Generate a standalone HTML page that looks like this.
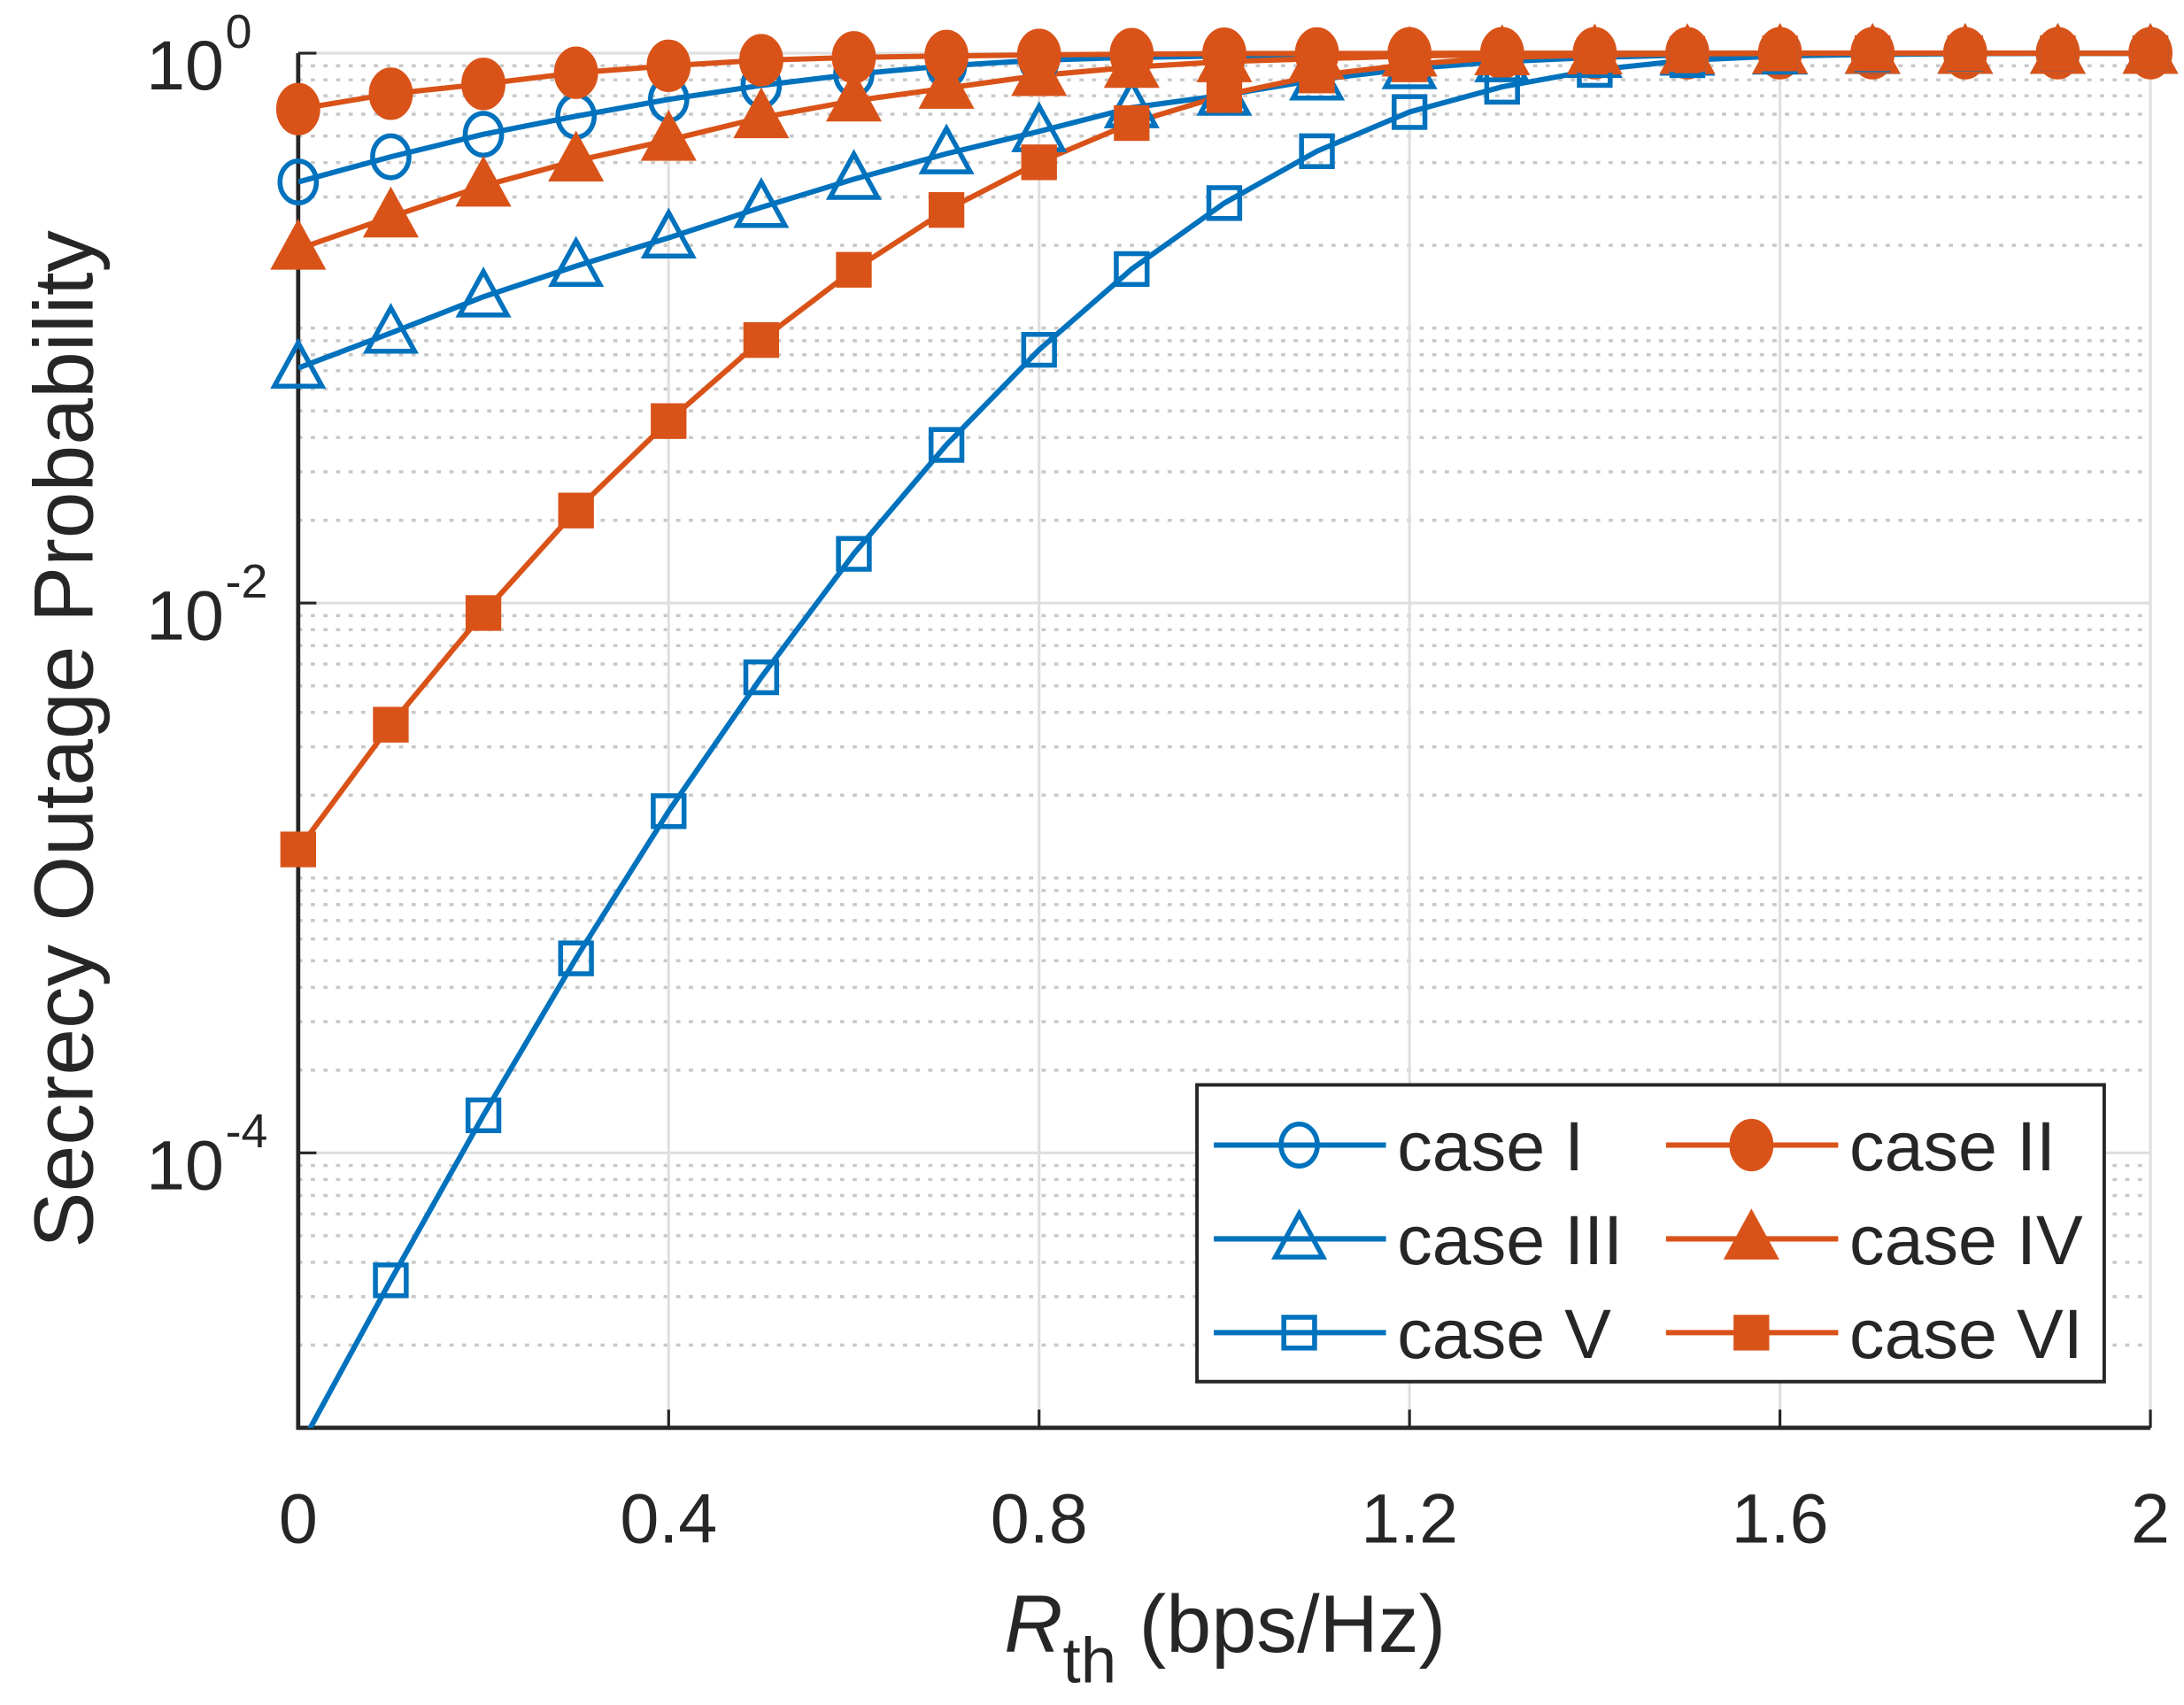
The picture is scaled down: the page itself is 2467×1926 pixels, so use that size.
<!DOCTYPE html>
<html><head><meta charset="utf-8"><style>
html,body{margin:0;padding:0;background:#fff;}
svg{display:block;}
text{font-family:"Liberation Sans",Arial,sans-serif;fill:#262626;}
</style></head><body>
<svg id="chart" xmlns="http://www.w3.org/2000/svg" width="2467" height="1926" viewBox="0 0 1560 1218" preserveAspectRatio="none">
<defs><clipPath id="plotclip"><rect x="213" y="30" width="1330" height="990"/></clipPath></defs>
<g id="grid"></g>
<g id="axes"></g>
<g id="series" clip-path="url(#plotclip)"></g>
<g id="markers"></g>
<g id="legend"></g>
<text x="875" y="1180" font-size="58" text-anchor="middle"><tspan font-style="italic">R</tspan><tspan font-size="46" dy="22">th</tspan><tspan dy="-22"> (bps/Hz)</tspan></text>
<text transform="translate(66,528) rotate(-90)" font-size="60" text-anchor="middle">Secrecy Outage Probability</text>
</svg>
<script>
const xValues = [0,0.1,0.2,0.3,0.4,0.5,0.6,0.7,0.8,0.9,1.0,1.1,1.2,1.3,1.4,1.5,1.6,1.7,1.8,1.9,2.0];
const caseI   = [0.340,0.420,0.507,0.590,0.679,0.764,0.839,0.900,0.943,0.966,0.977,0.985,0.990,0.995,0.998,0.999,1,1,1,1,1];
const caseII  = [0.626,0.712,0.773,0.849,0.900,0.943,0.966,0.977,0.986,0.992,0.996,0.998,0.999,1,1,1,1,1,1,1,1];
const caseIII = [0.0716,0.096,0.130,0.168,0.213,0.275,0.348,0.431,0.519,0.634,0.704,0.800,0.879,0.932,0.966,0.985,0.994,0.998,0.999,1,1];
const caseIV  = [0.194,0.254,0.329,0.406,0.483,0.583,0.671,0.746,0.830,0.889,0.932,0.954,0.977,0.988,0.995,0.998,1,1,1,1,1];
const caseV   = [8.3e-6,3.44e-5,1.37e-4,5.1e-4,1.75e-3,5.37e-3,0.0151,0.0376,0.0834,0.164,0.285,0.440,0.611,0.755,0.869,0.943,0.977,0.990,0.996,0.999,1];
const caseVI  = [1.27e-3,3.61e-3,9.2e-3,0.0217,0.0459,0.0905,0.163,0.269,0.401,0.557,0.704,0.830,0.911,0.966,0.985,0.994,0.998,1,1,1,1];
const xTicks = [0,0.4,0.8,1.2,1.6,2];
const xTickLabels = ["0","0.4","0.8","1.2","1.6","2"];
const yTickExps = [0,-2,-4];

const NS="http://www.w3.org/2000/svg";
const L=213,R=1536,T=38,B=1020,XMIN=0,XMAX=2,YMAXE=0,YMINE=-5;
const xs=v=>L+(v-XMIN)/(XMAX-XMIN)*(R-L);
const ys=v=>T+(YMAXE-Math.log10(v))/(YMAXE-YMINE)*(B-T);
function mk(tag,attrs,parent){const e=document.createElementNS(NS,tag);for(const k in attrs)e.setAttribute(k,attrs[k]);parent.appendChild(e);return e;}
const grid=document.getElementById('grid'),axes=document.getElementById('axes'),series=document.getElementById('series'),markers=document.getElementById('markers'),legend=document.getElementById('legend');
const BLUE="#0072BD",ORANGE="#D95319";

for(let e=YMINE;e<YMAXE;e++){for(let m=1;m<10;m++){const v=m*Math.pow(10,e);if(m===1&&e%2===0)continue;
 const g=mk('line',{x1:L,x2:R,y1:ys(v),y2:ys(v),stroke:'#c8c8c8','stroke-width':2.2,'stroke-dasharray':'3 6'},grid);
 
 }}
yTickExps.forEach(e=>{const g=mk('line',{x1:L,x2:R,y1:ys(Math.pow(10,e)),y2:ys(Math.pow(10,e)),stroke:'#dfdfdf','stroke-width':2},grid);
 
 });
xTicks.forEach(v=>{const g=mk('line',{x1:xs(v),x2:xs(v),y1:T,y2:B,stroke:'#dfdfdf','stroke-width':2},grid);
 
 });

const ax=mk('path',{d:`M${L},${T}V${B}H${R}`,fill:'none',stroke:'#262626','stroke-width':3},axes);


xTicks.forEach((v,i)=>{
 const t=mk('line',{x1:xs(v),x2:xs(v),y1:B,y2:B-13,stroke:'#262626','stroke-width':2},axes);
 
 
 const lb=mk('text',{x:xs(v),y:1102,'font-size':50,'text-anchor':'middle'},axes);lb.textContent=xTickLabels[i];
 
 });
yTickExps.forEach(e=>{const y=ys(Math.pow(10,e));
 const t=mk('line',{x1:L,x2:L+13,y1:y,y2:y,stroke:'#262626','stroke-width':2},axes);
 
 
 const lb=mk('text',{x:160,y:y+26,'font-size':50,'text-anchor':'end'},axes);lb.textContent='10';
 
 
 const ex=mk('text',{x:161,y:y-4,'font-size':34,'text-anchor':'start'},axes);ex.textContent=String(e);
 
 });

function marker(type,color,x,y,parent){let e;
 if(type==='circle'||type==='fcircle')e=mk('ellipse',{cx:x,cy:y,rx:type==='circle'?13:14,ry:type==='circle'?15:17},parent);
 else if(type==='tri'||type==='ftri')e=mk('polygon',{points:`${x},${y-18} ${x+17},${y+13} ${x-17},${y+13}`},parent);
 else e=mk('rect',{x:x-11,y:y-11,width:22,height:22},parent);
 const filled=type[0]==='f';
 e.setAttribute('fill',filled?color:'none');e.setAttribute('stroke',color);e.setAttribute('stroke-width',3.5);
 return e;}

const seriesDefs=[
 {name:'case I',data:caseI,color:BLUE,m:'circle'},
 {name:'case II',data:caseII,color:ORANGE,m:'fcircle'},
 {name:'case III',data:caseIII,color:BLUE,m:'tri'},
 {name:'case IV',data:caseIV,color:ORANGE,m:'ftri'},
 {name:'case V',data:caseV,color:BLUE,m:'sq'},
 {name:'case VI',data:caseVI,color:ORANGE,m:'fsq'}];
seriesDefs.forEach((s,si)=>{
 const d=s.data.map((v,i)=>(i?'L':'M')+xs(xValues[i]).toFixed(1)+','+ys(v).toFixed(1)).join('');
 const p=mk('path',{d:d,fill:'none',stroke:s.color,'stroke-width':3.8},series);
 
 
 s.data.forEach((v,i)=>{const y=ys(v);if(y>B+1)return;
  const e=marker(s.m,s.color,xs(xValues[i]),y,markers);
  
  });
});

const box=mk('rect',{x:855,y:775,width:648,height:212,fill:'#fff',stroke:'#262626','stroke-width':2.5},legend);


seriesDefs.forEach((s,i)=>{const col=i%2,row=Math.floor(i/2);
 const x0=col?1190:867,y=818+row*67;
 const g=mk('g',{},legend);
 
 
 mk('line',{x1:x0,x2:x0+123,y1:y,y2:y,stroke:s.color,'stroke-width':3.8},g);
 marker(s.m,s.color,x0+61,y,g);
 const t=mk('text',{x:x0+131,y:y+18,'font-size':50},g);t.textContent=s.name;});
</script>
</body></html>
